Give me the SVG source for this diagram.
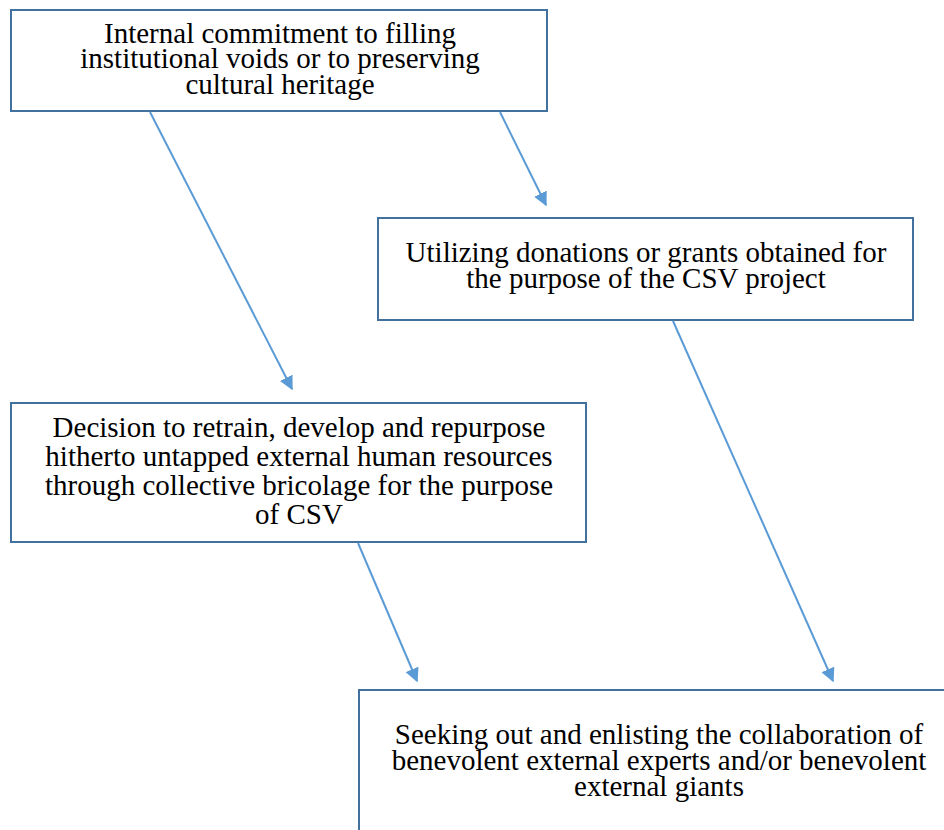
<svg xmlns="http://www.w3.org/2000/svg" width="944" height="830" viewBox="0 0 944 830">
<style>
.box{fill:#fff;stroke:#41719C;stroke-width:2}
.t{font-family:"Liberation Serif","Times New Roman",serif;font-size:29px;fill:#000;text-anchor:middle}
.c{stroke:#5B9BD5;stroke-width:2;fill:none;marker-end:url(#ah)}
</style>
<defs>
<marker id="ah" viewBox="0 0 10 10" refX="9" refY="5" markerWidth="7" markerHeight="7" orient="auto" markerUnits="strokeWidth">
<path d="M0,0 L10,5 L0,10 z" fill="#5B9BD5"/>
</marker>
</defs>
<rect width="944" height="830" fill="#fff"/>
<g id="n1"><rect class="box" x="11" y="10" width="536" height="101"/>
<text class="t" x="280" y="43">Internal commitment to filling</text>
<text class="t" x="280" y="68">institutional voids or to preserving</text>
<text class="t" x="280" y="94">cultural heritage</text></g>
<g id="n2"><rect class="box" x="378" y="218" width="535" height="102"/>
<text class="t" x="646" y="262">Utilizing donations or grants obtained for</text>
<text class="t" x="646" y="288">the purpose of the CSV project</text></g>
<g id="n3"><rect class="box" x="11" y="403" width="575" height="139"/>
<text class="t" x="299" y="437">Decision to retrain, develop and repurpose</text>
<text class="t" x="299" y="466">hitherto untapped external human resources</text>
<text class="t" x="299" y="495">through collective bricolage for the purpose</text>
<text class="t" x="299" y="524">of CSV</text></g>
<g id="n4"><rect class="box" x="359" y="690" width="600" height="160"/>
<text class="t" x="659" y="744">Seeking out and enlisting the collaboration of</text>
<text class="t" x="659" y="770">benevolent external experts and/or benevolent</text>
<text class="t" x="659" y="796">external giants</text></g>
<g id="connectors">
<line class="c" x1="150" y1="112" x2="292" y2="389"/>
<line class="c" x1="500" y1="112" x2="546" y2="205"/>
<line class="c" x1="673" y1="321" x2="833" y2="681"/>
<line class="c" x1="358" y1="543" x2="417" y2="681"/>
</g>
</svg>
